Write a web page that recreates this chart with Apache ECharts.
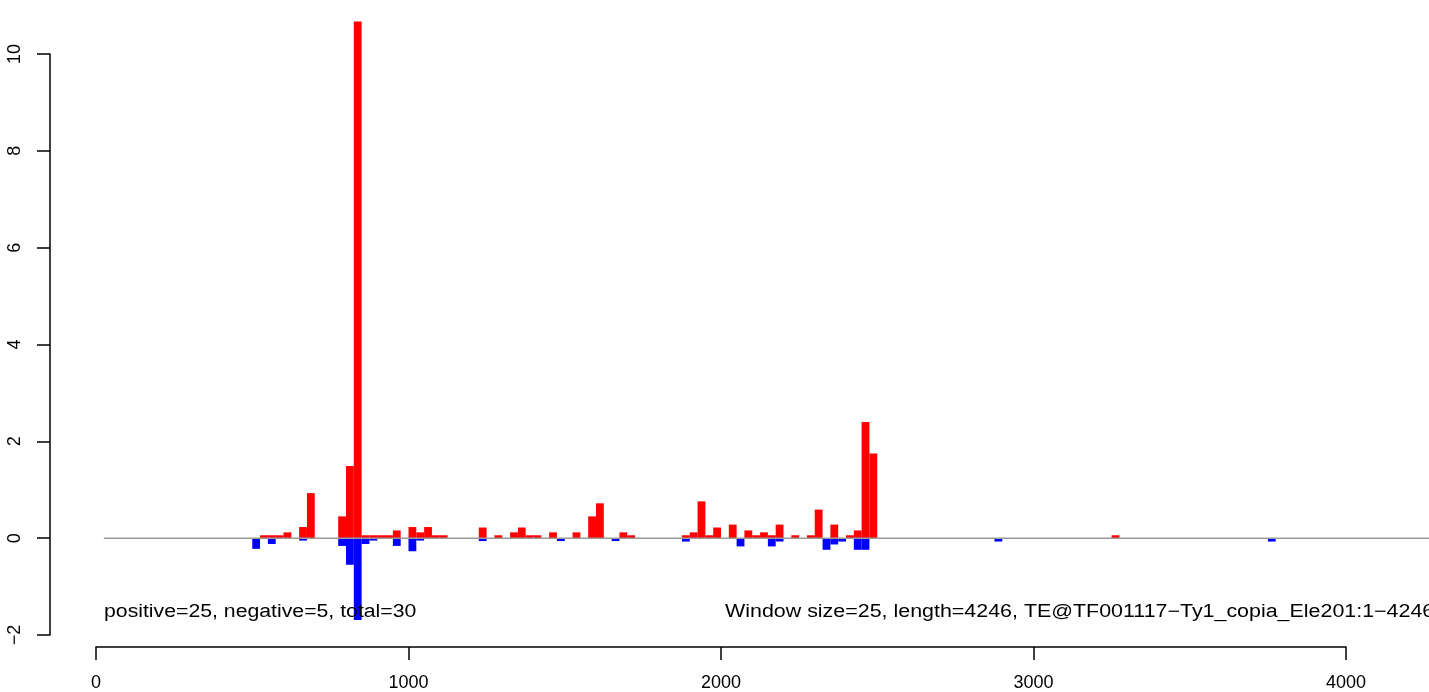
<!DOCTYPE html>
<html>
<head>
<meta charset="utf-8">
<script src="https://cdn.jsdelivr.net/npm/echarts@6/dist/echarts.min.js"></script>
<style>html,body{margin:0;padding:0;background:#fff;}#c{width:1429px;height:692px;}</style>
</head>
<body>
<div id="c"></div>
<script>
// Window size
var WINDOW = 25;
// Window start positions (bp)
var windowStarts = [500,525,550,575,600,650,675,775,800,825,850,875,900,925,950,1000,1025,1050,1075,1100,
  1225,1275,1325,1350,1375,1400,1450,1475,1525,1575,1600,1650,1675,1700,
  1875,1900,1925,1950,1975,2025,2050,2075,2100,2125,2150,2175,2225,2275,2300,2325,2350,2375,2400,2425,2450,2475,
  2875,3250,3750];
// Positive (red) values per window
var positiveValues = [0,0.06,0.06,0.06,0.12,0.23,0.93,0.45,1.49,10.67,0.06,0.06,0.06,0.06,0.16,0.23,0.12,0.23,0.06,0.06,
  0.22,0.06,0.12,0.22,0.06,0.06,0.12,0,0.12,0.45,0.72,0,0.12,0.06,
  0.06,0.12,0.76,0.06,0.22,0.28,0,0.16,0.06,0.12,0.06,0.28,0.06,0.06,0.59,0,0.28,0,0.06,0.16,2.40,1.75,
  0,0.06,0];
// Negative (blue) values per window
var negativeValues = [-0.22,0,-0.12,0,0,-0.05,0,-0.16,-0.55,-1.69,-0.12,-0.05,0,0,-0.16,-0.27,-0.05,0,0,0,
  -0.06,0,0,0,0,0,0,-0.06,0,0,0,-0.06,0,0,
  -0.07,0,0,0,0,0,-0.17,0,0,0,-0.17,-0.07,0,0,0,-0.24,-0.13,-0.07,0,-0.24,-0.24,0,
  -0.07,0,-0.07];
// Axis ticks
var xTicks = [0,1000,2000,3000,4000];
var yTicks = [-2,0,2,4,6,8,10];
// Zero reference line extent
var zeroLine = [[25,0],[4300,0]];
var leftNote = 'positive=25, negative=5, total=30';
var rightNote = 'Window size=25, length=4246, TE@TF001117\u2212Ty1_copia_Ele201:1\u22124246';

var posData = [], negData = [];
for (var i = 0; i < windowStarts.length; i++) {
  if (positiveValues[i] !== 0) posData.push([windowStarts[i], positiveValues[i]]);
  if (negativeValues[i] !== 0) negData.push([windowStarts[i], negativeValues[i]]);
}

function makeRender(color) {
  return function (params, api) {
    var s = api.value(0), v = api.value(1);
    var p0 = api.coord([s, v]);
    var p1 = api.coord([s + WINDOW, 0]);
    return {
      type: 'rect',
      shape: { x: p0[0], y: Math.min(p0[1], p1[1]), width: p1[0] - p0[0], height: Math.abs(p1[1] - p0[1]) },
      style: { fill: color }
    };
  };
}

var FONT = 'Liberation Sans, Arial, Helvetica, sans-serif';
var chart = echarts.init(document.getElementById('c'), null, { renderer: 'canvas' });
var pxPerUnit = 1250 / 4000;          // x=0 at px 96, x=4000 at px 1346
var dataMin = -(96 - 50) / pxPerUnit; // grid starts at the y-axis line (px 50)
var dataMax = (1429 - 96) / pxPerUnit;

chart.setOption({
  animation: false,
  backgroundColor: '#ffffff',
  grid: [
    { left: 50, width: 1379, top: 54, height: 581 },
    { left: 96, width: 1250, top: 600, height: 48 }
  ],
  xAxis: [
    { gridIndex: 0, type: 'value', min: dataMin, max: dataMax, show: false },
    { gridIndex: 1, type: 'value', min: xTicks[0], max: xTicks[xTicks.length - 1], interval: 1000, position: 'bottom',
      axisLine: { show: true, onZero: false, lineStyle: { color: '#000', width: 1.5 } },
      axisTick: { show: true, inside: false, length: 13, lineStyle: { color: '#000', width: 1.5 } },
      axisLabel: { show: true, color: '#000', fontSize: 18, fontFamily: FONT, margin: 27,
        formatter: function (v) { return String(v); } },
      splitLine: { show: false } }
  ],
  yAxis: [
    { gridIndex: 0, type: 'value', min: yTicks[0], max: yTicks[yTicks.length - 1], interval: 2, position: 'left',
      axisLine: { show: true, onZero: false, lineStyle: { color: '#000', width: 1.5 } },
      axisTick: { show: true, inside: false, length: 13, lineStyle: { color: '#000', width: 1.5 } },
      axisLabel: { show: true, color: '#000', fontSize: 18, fontFamily: FONT, rotate: 90, margin: 26,
        formatter: function (v) { return String(v).replace('-', '\u2212'); } },
      splitLine: { show: false } },
    { gridIndex: 1, type: 'value', show: false, min: 0, max: 1 }
  ],
  series: [
    { type: 'custom', xAxisIndex: 0, yAxisIndex: 0, data: posData, renderItem: makeRender('#ff0000'), clip: false, z: 2 },
    { type: 'custom', xAxisIndex: 0, yAxisIndex: 0, data: negData, renderItem: makeRender('#0000ff'), clip: false, z: 2 },
    { type: 'line', xAxisIndex: 0, yAxisIndex: 0, data: zeroLine, symbol: 'none', clip: true, z: 3,
      lineStyle: { color: '#999999', width: 1.5 } }
  ],
  graphic: [
    { type: 'text', x: 104, y: 612, scaleX: 1.18, z: 10,
      style: { text: leftNote, fill: '#000', font: '18px ' + FONT, verticalAlign: 'middle' } },
    { type: 'text', x: 725, y: 612, scaleX: 1.19, z: 10,
      style: { text: rightNote, fill: '#000', font: '18px ' + FONT, verticalAlign: 'middle' } }
  ]
});
</script>
</body>
</html>
